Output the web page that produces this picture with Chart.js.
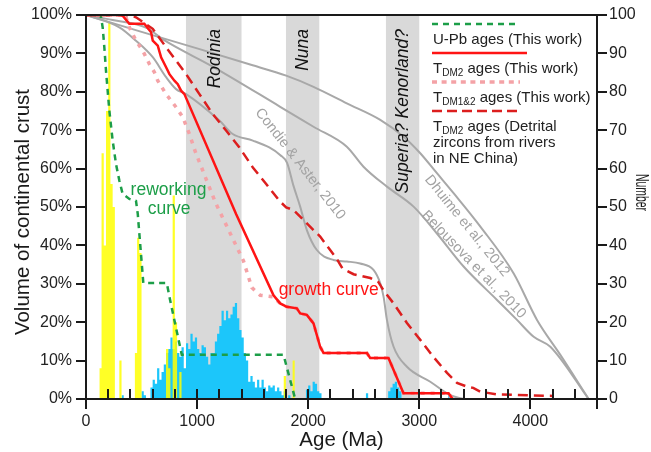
<!DOCTYPE html>
<html>
<head>
<meta charset="utf-8">
<title>Continental crust growth</title>
<script src="https://cdn.jsdelivr.net/npm/chart.js@4.4.0/dist/chart.umd.min.js"></script>
<style>
  html, body { margin: 0; padding: 0; background: #fff; }
  canvas { display: block; }
</style>
</head>
<body>
<canvas id="crust" width="651" height="452"></canvas>
<script>
// ---------- data ----------
// histogram bins (Ma, 20 Ma wide) counted on the right axis
const binWidth = 20;
const yellowAges = [120, 140, 160, 180, 200, 220, 240, 300, 440, 460, 480, 720, 740, 780, 800, 840, 1780, 1860];
const yellowCounts = [8, 64, 40, 75, 98, 56, 50, 10, 12, 42, 38, 13, 8, 53, 20, 7, 6, 10];

const cyanAges = [320, 500, 520, 580, 600, 620, 640, 660, 680, 700,
  720, 740, 760, 780, 800, 820, 840, 860, 880, 900,
  920, 940, 960, 980, 1000, 1020, 1040, 1060, 1080, 1100,
  1120, 1140, 1160, 1180, 1200, 1220, 1240, 1260, 1280, 1300,
  1320, 1340, 1360, 1380, 1400, 1420, 1440, 1460, 1480, 1500,
  1520, 1540, 1560, 1580, 1600, 1620, 1640, 1660, 1680, 1700,
  1720, 1740, 1760, 1780, 1820, 1980, 2000, 2020, 2040, 2060,
  2080, 2100, 2520, 2720, 2740, 2760, 2780, 2800, 2820, 3260];
const cyanCounts = [1, 2, 1, 3, 5, 4, 8, 5, 7, 9,
  12, 13, 16, 13, 15, 12, 11, 13.5, 8, 14.5,
  13, 17, 15, 16, 13, 12, 14, 13.5, 11, 9,
  12, 12, 15, 17, 19, 23, 20.5, 23, 21, 22,
  24, 25, 21, 18, 16, 12, 10, 4.5, 6, 4.5,
  3, 5, 3, 5, 3, 2, 3.5, 3, 3.5, 2,
  3, 2, 1, 2, 1, 2.5, 3.5, 2, 4.5, 4,
  2, 1.5, 1.5, 2, 3, 4, 4.5, 3, 2, 1];

// cumulative curves, % of present crust volume
const upbAge = [0, 120, 135, 150, 165, 180, 195, 210, 240, 270, 300, 330, 390, 450, 466, 516, 727, 757, 862, 1778, 1883];
const upbPct = [100, 100, 99.4, 96.8, 91.6, 85.5, 80.3, 75.1, 67.3, 61.2, 56.9, 53.4, 52.1, 51.6, 48.2, 30.2, 30.2, 25.8, 11.5, 11.5, 0];

const tdm2Age = [0, 300, 330, 390, 525, 586, 601, 646, 676, 721, 751, 796, 826, 856, 886, 1351, 1688, 1748, 1808, 1898, 1928, 1988, 2048, 2108, 2138, 2528, 2558, 2723, 2858, 3264, 3300];
const tdm2Pct = [100, 100, 99.8, 97.7, 97.7, 95.5, 93.3, 92, 89, 86.4, 84.6, 82.9, 82, 80.3, 79.4, 48.2, 27, 24.9, 24, 23.6, 22.3, 21.9, 19.7, 13.6, 12, 12, 10.7, 10.7, 1.5, 1.5, 0];

const tdm12Age = [0, 320, 360, 390, 450, 511, 571, 616, 646, 721, 811, 871, 931, 991, 1051, 1111, 1171, 1417, 1493, 1568, 1688, 1748, 1808, 1898, 1928, 1988, 2048, 2108, 2138, 2528, 2558, 2723, 2858, 3264, 3300];
const tdm12Pct = [100, 100, 99.4, 96.8, 93.3, 90.7, 87.2, 85.1, 82.9, 79.4, 76, 73.4, 69, 63.8, 59.5, 55.1, 50.8, 36, 29, 27, 26.6, 24.9, 24, 23.6, 22.3, 21.9, 19.7, 13.6, 12, 12, 10.7, 10.7, 1.5, 1.5, 0];

const riverAge = [0, 400, 450, 601, 721, 901, 1021, 1141, 1261, 1381, 1502, 1622, 1741, 1802, 1868, 2048, 2108, 2198, 2258, 2308, 2408, 2559, 2631, 2676, 2766, 2889, 3009, 3126, 3250, 3340, 3430, 3486, 3550, 3700, 4200];
const riverPct = [100, 100, 99.4, 96.4, 91.6, 84.6, 79.4, 74.2, 69.9, 65.5, 60.3, 56, 51.6, 49.9, 49.2, 44, 42.3, 38.8, 36.5, 34, 32.5, 31.5, 30.5, 28.4, 25, 19.8, 15.4, 11, 6.8, 4.2, 3.2, 2.9, 1.9, 1.2, 0.8];

const dhuimeAge = [0, 500, 1000, 1500, 1802, 2048, 2348, 2649, 2859, 3009, 3159, 3309, 3550, 3850, 4060, 4270, 4525];
const dhuimePct = [100, 95.6, 91.3, 86.9, 84.2, 81.3, 77, 72.7, 68.3, 64, 58.8, 53.6, 44.9, 32.7, 20.6, 11.5, 0];

const belousovaAge = [0, 240, 550, 700, 1144, 1748, 2048, 2348, 2498, 2709, 2949, 3159, 3399, 3700, 3880, 4030, 4180, 4525];
const belousovaPct = [100, 98.7, 96.6, 93.5, 86.5, 76.1, 70.9, 65.7, 60.5, 55.3, 50.1, 43.1, 34.5, 25.8, 20.6, 16.2, 13.6, 0];

const condieAge = [0, 300, 450, 601, 721, 811, 901, 1201, 1321, 1502, 1650, 1750, 1810, 1868, 1928, 1988, 2078, 2228, 2348, 2468, 2588, 2649, 2679, 2709, 2769, 2889, 3099, 3279, 3400];
const condiePct = [100, 96.8, 93.3, 89, 83.8, 80.7, 79.4, 72.5, 69, 67.3, 65.5, 63.5, 61.5, 55.5, 50.1, 44, 38.8, 36.2, 35.8, 35.3, 33.6, 30.1, 26.6, 20.6, 13.6, 8.4, 4.5, 1, 0];

// supercontinent windows (Ma)
const bandNames = ['Rodinia', 'Nuna', 'Superia? Kenorland?'];
const bandStart = [900, 1800, 2700];
const bandEnd = [1400, 2100, 3000];

// axis ticks
const ageTicks = [0, 1000, 2000, 3000, 4000];
const pctTicks = [0, 10, 20, 30, 40, 50, 60, 70, 80, 90, 100];

// ---------- helpers ----------
const FONT = '"Liberation Sans", Arial, Helvetica, sans-serif';
const GREEN = '#1c9e48';
const RED = '#ff1414';
const RED_DARK = '#dc1e1e';
const PINK = '#f4a2a6';
const GREY = '#a8a8a8';

const pts = (xs, ys) => xs.map((x, i) => ({ x: x, y: ys[i] }));

// sparse bins -> step outline that closes to zero on both sides of each run
function histPoints(ages, counts) {
  const out = [];
  ages.forEach((a, i) => {
    if (i === 0 || ages[i - 1] !== a - binWidth) out.push({ x: a, y: 0 });
    out.push({ x: a, y: counts[i] });
    if (i === ages.length - 1 || ages[i + 1] !== a + binWidth) out.push({ x: a + binWidth, y: 0 });
  });
  return out;
}

function curve(xs, ys, color, width, dash, order, smooth) {
  return {
    data: pts(xs, ys),
    borderColor: color,
    borderWidth: width,
    borderDash: dash,
    fill: false,
    order: order,
    yAxisID: 'y',
    cubicInterpolationMode: smooth ? 'monotone' : 'default',
    tension: 0,
  };
}

function hist(ages, counts, color, order) {
  return {
    data: histPoints(ages, counts),
    stepped: true,
    fill: 'origin',
    backgroundColor: color,
    borderColor: 'transparent',
    borderWidth: 0,
    order: order,
    yAxisID: 'y2',
  };
}

const useTicks = (values) => (scale) => {
  scale.ticks = values.map((v) => ({ value: v }));
};

// keep the plot frame where the figure has it (no extra room for label overhang)
const fixWidth = (w) => (s) => {
  s.width = w;
  s.paddingTop = 0;
  s.paddingBottom = 0;
};

// ---------- drawing on top of / under the datasets ----------
const overlay = {
  id: 'overlay',
  beforeDatasetsDraw(chart) {
    const { ctx, chartArea: a, scales: { x } } = chart;
    ctx.save();
    ctx.fillStyle = '#d9d9d9';
    bandStart.forEach((s, i) => {
      const x0 = x.getPixelForValue(s);
      const x1 = x.getPixelForValue(bandEnd[i]);
      ctx.fillRect(x0, a.top, x1 - x0, a.bottom - a.top);
    });
    ctx.restore();
  },

  afterDatasetsDraw(chart) {
    const { ctx, chartArea: a, scales: { x, y } } = chart;
    ctx.save();

    // band names, rotated, hanging from the top
    ctx.fillStyle = '#111';
    ctx.font = 'italic 17.5px ' + FONT;
    ctx.textAlign = 'right';
    ctx.textBaseline = 'middle';
    bandNames.forEach((name, i) => {
      const xc = (x.getPixelForValue(bandStart[i]) + x.getPixelForValue(bandEnd[i])) / 2;
      ctx.save();
      ctx.translate(xc + 1, a.top + 14);
      ctx.rotate(-Math.PI / 2);
      ctx.fillText(name, 0, 0);
      ctx.restore();
    });

    // slanted labels of the published curves
    const slanted = [
      ['Condie & Aster, 2010', 1928, 61.2, 52],
      ['Dhuime et al., 2012', 3430, 45.1, 51],
      ['Belousova et al., 2010', 3490, 35.0, 46],
    ];
    ctx.fillStyle = '#a3a3a3';
    ctx.font = '14.5px ' + FONT;
    ctx.textAlign = 'center';
    slanted.forEach(([txt, age, pct, deg]) => {
      ctx.save();
      ctx.translate(x.getPixelForValue(age), y.getPixelForValue(pct));
      ctx.rotate(deg * Math.PI / 180);
      ctx.fillText(txt, 0, 0);
      ctx.restore();
    });

    // curve names
    ctx.font = '17.5px ' + FONT;
    ctx.fillStyle = GREEN;
    ctx.fillText('reworking', x.getPixelForValue(743), y.getPixelForValue(54.4));
    ctx.fillText('curve', x.getPixelForValue(748), y.getPixelForValue(49.5));
    ctx.fillStyle = RED;
    ctx.fillText('growth curve', x.getPixelForValue(2185), y.getPixelForValue(28.4));

    // legend
    const legend = [
      { color: GREEN, width: 2.5, dash: [6, 5], len: 88, lines: [['', '', 'U-Pb ages (This work)']] },
      { color: RED, width: 2.5, dash: [], len: 95, lines: [['T', 'DM2', ' ages (This work)']] },
      { color: PINK, width: 3.5, dash: [5, 4.6], len: 88, lines: [['T', 'DM1&2', ' ages (This work)']] },
      { color: RED_DARK, width: 2.5, dash: [10, 5], len: 88,
        lines: [['T', 'DM2', ' ages (Detrital'], ['', '', 'zircons from rivers'], ['', '', 'in NE China)']] },
    ];
    const lx = 432;
    let ly = 24;
    ctx.textAlign = 'left';
    ctx.textBaseline = 'alphabetic';
    legend.forEach((item) => {
      ctx.save();
      ctx.strokeStyle = item.color;
      ctx.lineWidth = item.width;
      ctx.setLineDash(item.dash);
      ctx.beginPath();
      ctx.moveTo(lx, ly);
      ctx.lineTo(lx + item.len, ly);
      ctx.stroke();
      ctx.restore();
      item.lines.forEach((parts, k) => {
        const base = ly + 20 + k * 16;
        let cx = lx + 1;
        ctx.fillStyle = '#222';
        ctx.font = '15px ' + FONT;
        ctx.fillText(parts[0], cx, base);
        cx += ctx.measureText(parts[0]).width;
        ctx.font = '10px ' + FONT;
        ctx.fillText(parts[1], cx, base + 2.5);
        cx += ctx.measureText(parts[1]).width;
        ctx.font = '15px ' + FONT;
        ctx.fillText(parts[2], cx, base);
      });
      ly += 29;
    });

    ctx.restore();
  },

  afterDraw(chart) {
    const { ctx, chartArea: a, scales: { x, y } } = chart;
    ctx.save();
    ctx.strokeStyle = '#1a1a1a';
    ctx.lineWidth = 2;
    ctx.beginPath();
    ctx.moveTo(a.left, a.top); ctx.lineTo(a.right, a.top);
    ctx.moveTo(a.left, a.top); ctx.lineTo(a.left, a.bottom + 10);
    ctx.moveTo(a.right, a.top); ctx.lineTo(a.right, a.bottom + 10);
    ctx.moveTo(a.left, a.bottom); ctx.lineTo(a.right, a.bottom);
    pctTicks.forEach((v) => {
      const py = Math.round(y.getPixelForValue(v));
      ctx.moveTo(a.left - 10, py); ctx.lineTo(a.left, py);
      ctx.moveTo(a.right, py); ctx.lineTo(a.right + 10, py);
    });
    for (let v = 200; v < 4600; v += 200) {
      const px = Math.round(x.getPixelForValue(v));
      ctx.moveTo(px, a.bottom - 10);
      ctx.lineTo(px, ageTicks.includes(v) ? a.bottom + 10 : a.bottom);
    }
    ctx.stroke();

    // axis titles
    ctx.fillStyle = '#1a1a1a';
    ctx.font = '20.5px ' + FONT;
    ctx.textAlign = 'center';
    ctx.textBaseline = 'middle';
    ctx.fillText('Age (Ma)', (a.left + a.right) / 2, 440);

    ctx.save();
    ctx.translate(23, 212);
    ctx.rotate(-Math.PI / 2);
    ctx.fillText('Volume of continental crust', 0, 0);
    ctx.restore();

    ctx.save();
    ctx.translate(636, 192.5);
    ctx.rotate(Math.PI / 2);
    ctx.scale(0.55, 1);
    ctx.textBaseline = 'alphabetic';
    ctx.font = '19px ' + FONT;
    ctx.fillText('Number', 0, 0);
    ctx.restore();

    ctx.restore();
  },
};

// ---------- chart ----------
const tickFont = { family: FONT, size: 16 };

new Chart(document.getElementById('crust'), {
  type: 'line',
  data: {
    datasets: [
      curve(tdm2Age, tdm2Pct, RED, 2.5, [], 1, false),
      curve(riverAge, riverPct, RED_DARK, 2.5, [10, 6], 2, false),
      curve(tdm12Age, tdm12Pct, PINK, 3.5, [4, 6], 3, false),
      curve(upbAge, upbPct, GREEN, 2.5, [6, 5], 4, false),
      curve(dhuimeAge, dhuimePct, GREY, 2, [], 5, true),
      curve(belousovaAge, belousovaPct, GREY, 2, [], 5, true),
      curve(condieAge, condiePct, GREY, 2, [], 5, true),
      hist(yellowAges, yellowCounts, 'rgba(255, 255, 0, 0.85)', 6),
      hist(cyanAges, cyanCounts, '#1cc6fa', 7),
    ],
  },
  options: {
    responsive: false,
    animation: false,
    layout: { padding: { top: 15, left: 0, right: 0, bottom: 0 } },
    elements: { point: { radius: 0 } },
    plugins: {
      legend: { display: false },
      tooltip: { enabled: false },
    },
    scales: {
      x: {
        type: 'linear',
        min: 0,
        max: 4600,
        afterBuildTicks: useTicks(ageTicks),
        afterFit: (s) => { s.height = 53; s.paddingLeft = 0; s.paddingRight = 0; },
        grid: { display: false, drawTicks: false },
        border: { display: false },
        ticks: {
          autoSkip: false,
          maxRotation: 0,
          padding: 13,
          color: '#222',
          font: tickFont,
          callback: (v) => String(v),
        },
      },
      y: {
        position: 'left',
        min: 0,
        max: 100,
        afterBuildTicks: useTicks(pctTicks),
        afterFit: fixWidth(86),
        grid: { display: false, drawTicks: false },
        border: { display: false },
        ticks: { padding: 14, color: '#222', font: tickFont, callback: (v) => v + '%' },
      },
      y2: {
        position: 'right',
        min: 0,
        max: 100,
        afterBuildTicks: useTicks(pctTicks),
        afterFit: fixWidth(54),
        grid: { display: false, drawTicks: false },
        border: { display: false },
        ticks: { padding: 12, color: '#222', font: tickFont },
      },
    },
  },
  plugins: [overlay],
});
</script>
</body>
</html>
